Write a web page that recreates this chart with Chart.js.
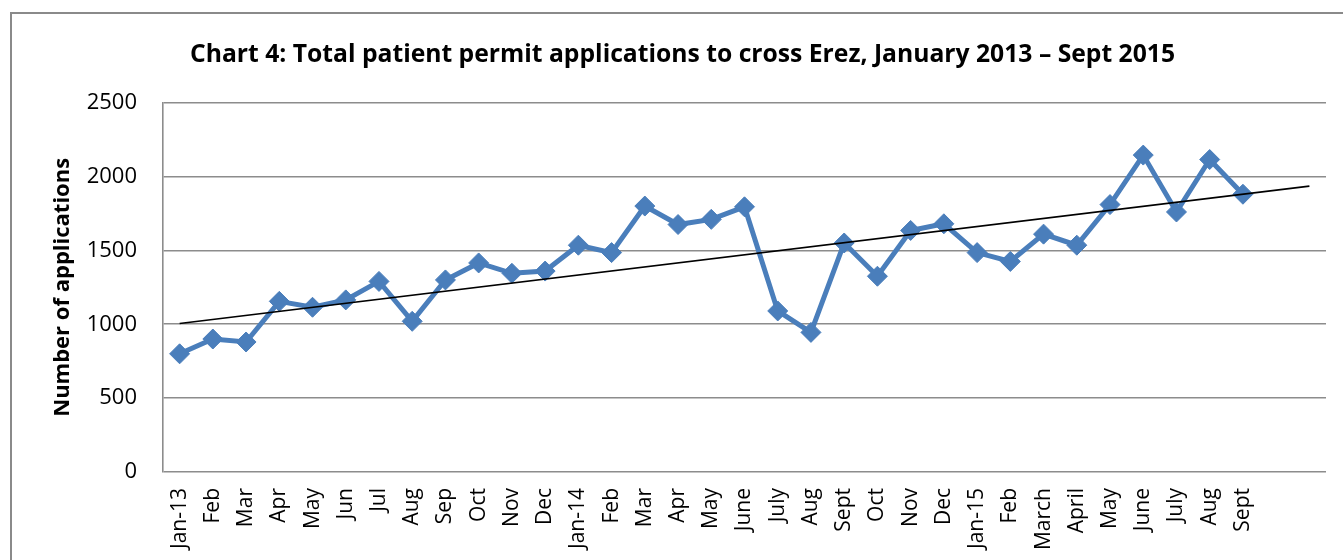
<!DOCTYPE html>
<html lang="en">
<head>
<meta charset="UTF-8">
<title>Chart 4</title>
<script src="https://cdn.jsdelivr.net/npm/chart.js"></script>
<style>
    html, body { margin:0; padding:0; background:#fff; overflow:hidden; }
    #frame { position:absolute; left:10px; top:12px; width:1400px; height:700px; border:2px solid #8a8a8a; }
    #wrap { position:absolute; left:0; top:0; width:1343px; height:560px; }
</style>
</head>
<body>
<div id="frame"></div>
<div id="wrap"><canvas id="myChart"></canvas></div>
<script>
    // months on the x axis (the two blank slots at the end carry the trend forecast)
    const months = ["Jan-13","Feb","Mar","Apr","May","Jun","Jul","Aug","Sep","Oct","Nov","Dec",
                    "Jan-14","Feb","Mar","Apr","May","June","July","Aug","Sept","Oct","Nov","Dec",
                    "Jan-15","Feb","March","April","May","June","July","Aug","Sept","",""];

    // total patient permit applications per month
    const applications = [800, 900, 880, 1155, 1115, 1165, 1290, 1020, 1300, 1415, 1345, 1360,
                          1535, 1485, 1800, 1675, 1710, 1795, 1090, 945, 1550, 1325,
                          1635, 1680, 1485, 1425, 1610, 1535, 1810, 2145, 1760, 2115, 1880];

    // linear trend line, start and end values (first month, last forecast slot)
    const trendEnds = [1005, 1935];

    const yTicks = [0, 500, 1000, 1500, 2000, 2500];

    const trendData = months.map(() => null);
    trendData[0] = trendEnds[0];
    trendData[months.length - 1] = trendEnds[1];

    const ctx = document.querySelector('#myChart');
    const erezChart = new Chart(ctx, {
        type: 'line',
        data: {
            labels: months,
            datasets: [{
                label: 'Linear trend',
                data: trendData,
                borderColor: '#000',
                borderWidth: 1.6,
                pointRadius: 0,
                spanGaps: true,
                order: 0
            }, {
                label: 'Applications',
                data: applications,
                borderColor: '#4a7ebb',
                backgroundColor: '#4a7ebb',
                borderWidth: 5,
                pointStyle: 'rectRot',
                pointRadius: 10,
                pointBorderWidth: 1,
                pointBorderColor: '#4a7ebb',
                pointBackgroundColor: '#4a7ebb',
                tension: 0,
                order: 1
            }]
        },
        options: {
            responsive: true,
            maintainAspectRatio: false,
            animation: false,
            layout: { padding: { left: 39, right: 17, top: 0, bottom: 0 } },
            plugins: {
                legend: { display: false },
                tooltip: { enabled: false },
                title: {
                    display: true,
                    text: 'Chart 4: Total patient permit applications to cross Erez, January 2013 \u2013 Sept 2015',
                    color: '#000',
                    font: { family: 'Open Sans', size: 24.7, weight: 'bold' },
                    padding: { top: 40, bottom: 33 }
                }
            },
            scales: {
                x: {
                    offset: true,
                    grid: { display: false, drawTicks: false },
                    border: { display: false },
                    ticks: {
                        autoSkip: false,
                        maxRotation: 90,
                        minRotation: 90,
                        padding: 16,
                        color: '#000',
                        font: { family: 'Open Sans', size: 21 }
                    },
                    afterFit: (scale) => {
                        scale.height = 88;
                        scale.paddingLeft = 0;
                        scale.paddingRight = 0;
                    }
                },
                y: {
                    min: 0,
                    max: 2500,
                    afterBuildTicks: (scale) => { scale.ticks = yTicks.map(v => ({ value: v })); },
                    grid: { color: '#8c8c8c', lineWidth: 1.6, drawTicks: false },
                    border: { display: true, color: '#8c8c8c', width: 1.6 },
                    ticks: {
                        padding: 26,
                        color: '#000',
                        font: { family: 'Open Sans', size: 22 },
                        callback: (v) => String(v)
                    },
                    title: {
                        display: true,
                        text: 'Number of applications',
                        color: '#000',
                        font: { family: 'Open Sans', size: 22, weight: 'bold' },
                        padding: { top: 11, bottom: 0 }
                    },
                    afterFit: (scale) => { scale.width = 124; }
                }
            }
        }
    });
</script>
</body>
</html>
